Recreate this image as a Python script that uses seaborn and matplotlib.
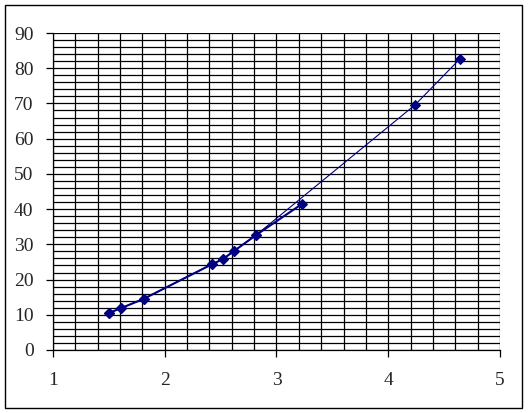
import numpy as np
import pandas as pd
import matplotlib
matplotlib.use("Agg")
import matplotlib.pyplot as plt
from matplotlib.ticker import MultipleLocator
from matplotlib.patches import Rectangle
import seaborn as sns

# values
x_main = [1.5, 1.61, 1.81, 2.42, 2.52, 2.62, 2.82, 3.23]
y_main = [10.5, 11.9, 14.5, 24.3, 25.8, 28.1, 32.7, 41.5]
# second (thin) series: same early points, then jumps to the high values
x_thin = [1.5, 1.61, 1.81, 2.42, 2.52, 2.62, 2.82, 4.24, 4.64]
y_thin = [10.5, 11.9, 14.5, 24.3, 25.8, 28.1, 32.7, 69.6, 82.6]

sns.set_style("white")
plt.rcParams['font.family'] = ['Liberation Serif', 'DejaVu Serif']

navy = "#000080"

fig = plt.figure(figsize=(5.29, 4.13), dpi=100)
ax = fig.add_axes([53 / 529, 1 - 350 / 413, 447 / 529, 317 / 413])

thin = pd.DataFrame({"x": x_thin, "y": y_thin})
sns.lineplot(data=thin, x="x", y="y", ax=ax, color=navy, lw=0.8, sort=False,
             marker="D", markersize=5, markeredgecolor=navy, zorder=3)

main = pd.DataFrame({"x": x_main, "y": y_main})
sns.lineplot(data=main, x="x", y="y", ax=ax, color=navy, lw=1.5, sort=False,
             marker="D", markersize=5, markeredgecolor=navy, zorder=4)

ax.set_xlim(1, 5)
ax.set_ylim(0, 90)
ax.xaxis.set_major_locator(MultipleLocator(1))
ax.xaxis.set_minor_locator(MultipleLocator(0.2))
ax.yaxis.set_major_locator(MultipleLocator(10))
ax.yaxis.set_minor_locator(MultipleLocator(2))
ax.grid(True, which="both", color="black", lw=0.9)
ax.set_axisbelow(True)
ax.set_xlabel("")
ax.set_ylabel("")

for s in ["top", "right"]:
    ax.spines[s].set_visible(False)
for s in ["left", "bottom"]:
    ax.spines[s].set_color("black")
    ax.spines[s].set_linewidth(0.9)

ax.tick_params(which="major", direction="out", length=5, width=0.9,
               color="black", labelsize=14, left=True, bottom=True)
ax.tick_params(axis="y", pad=9)
ax.tick_params(axis="x", pad=11)
ax.tick_params(which="minor", length=0)

fig.patches.append(Rectangle((5 / 529, 1 - 408 / 413), 517 / 529, 403 / 413,
                             transform=fig.transFigure, fill=False,
                             edgecolor="black", lw=1))

fig.savefig("out.png", dpi=100)
